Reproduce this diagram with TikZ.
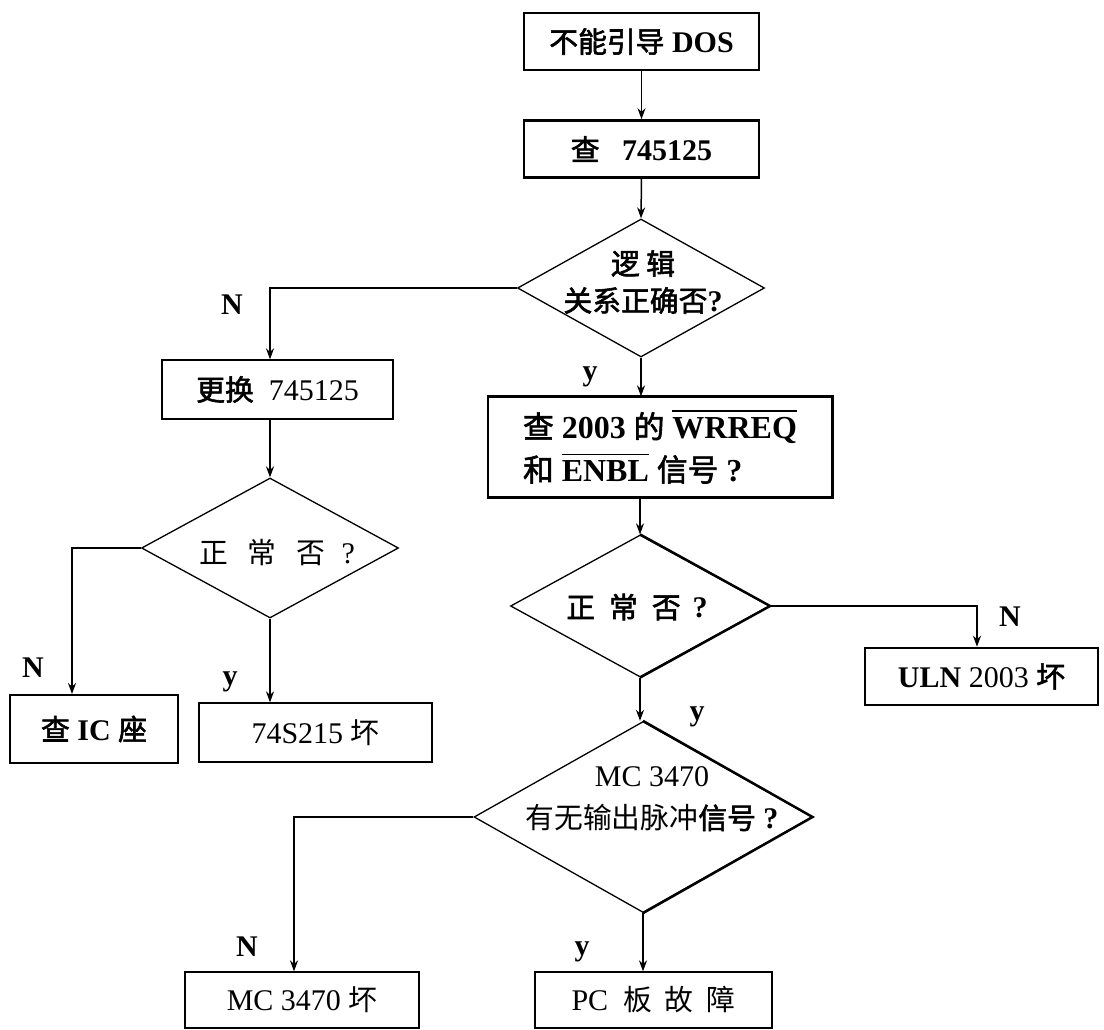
\documentclass[tikz,border=0pt]{standalone}
\usepackage{fontspec}
\setmainfont{Liberation Serif}
\newfontfamily\cjk{Noto Sans CJK SC}[Scale=0.96,AutoFakeBold=2]
\usetikzlibrary{shapes.geometric,arrows.meta}
\newcommand{\zh}[1]{{\cjk #1}}
\newcommand{\myovl}[1]{\setbox0\hbox{#1}\rlap{\raisebox{\dimexpr\ht0+5pt\relax}{\rule{\wd0}{1.6pt}}}\box0\relax}
\tikzset{
  box/.style={draw, rectangle, inner sep=0pt, line width=1.3pt, font=\fontsize{30}{40}\selectfont},
  heavy/.style={line width=2.6pt},
  dia/.style={draw, diamond, inner sep=0pt, line width=1.3pt},
  txt/.style={font=\fontsize{30}{37}\selectfont, align=center, inner sep=0pt},
  lbl/.style={font=\fontsize{30}{36}\selectfont\bfseries, inner sep=0pt},
  conn/.style={line width=1.5pt, -{Stealth[length=11pt,width=8pt]}},
}
\begin{document}
\begin{tikzpicture}[x=1pt,y=-1pt]
\fill[white] (0,0) rectangle (1104,1030);
\useasboundingbox (0,0) rectangle (1104,1030);

% main spine
\node[box, heavy, minimum width=235pt, minimum height=57pt] (b1) at (641.5,41.5)
  {\zh{\bfseries 不能引导} \textbf{DOS}\hspace{8pt}};
\node[box, heavy, minimum width=235pt, minimum height=57pt] (b2) at (641.5,149)
  {\zh{\bfseries 查}\ \ \ \textbf{745125}\hspace{36pt}};
\node[dia, minimum width=247pt, minimum height=138pt] (d1) at (641,288) {};
\node[txt] (t1) at (643,282) {\zh{\bfseries 逻\ 辑}\\\zh{\bfseries 关系正确否}\textbf{?}};
\node[box, minimum width=344pt, minimum height=100pt, align=left,
      font=\fontsize{32}{43}\selectfont] (b3) at (660,447)
  {\zh{\bfseries 查} \textbf{2003} \zh{\bfseries 的} \myovl{\textbf{WRREQ}}\\
   \zh{\bfseries 和} \myovl{\textbf{ENBL}} \zh{\bfseries 信号} \textbf{?}};
\draw[heavy] (b3.north west) -- (b3.north east) -- (b3.south east) -- (b3.south west);
\node[dia, minimum width=259pt, minimum height=142pt] (d2) at (640,606) {};
\draw[line width=2.4pt, line join=miter] (d2.north) -- (d2.east) -- (d2.south);
\node[txt] (t2) at (637,607) {\zh{\bfseries 正\hspace{14pt}常\hspace{14pt}否}\hspace{12pt}\textbf{?}};
\node[box, heavy, minimum width=233pt, minimum height=57pt] (uln) at (981.5,676.5)
  {\textbf{ULN} 2003 \zh{\bfseries 坏}};
\node[dia, minimum width=338pt, minimum height=191pt] (d3) at (643,817) {};
\draw[line width=2.4pt] (d3.north) -- (d3.east) -- (d3.south);
\node[txt, font=\fontsize{30}{42}\selectfont] (t3) at (652,799)
  {MC 3470\\\zh{有无输出脉冲}\zh{\bfseries 信号} \textbf{?}};
\node[box, minimum width=234pt, minimum height=56pt] (b7) at (302,1000)
  {MC 3470 \zh{坏}\hspace{20pt}};
\node[box, minimum width=237pt, minimum height=56pt] (b8) at (653.5,1000)
  {PC\ \ \zh{板\ \ 故\ \ 障}\hspace{12pt}};

% left branch
\node[box, minimum width=231pt, minimum height=59pt] (b4) at (277.5,389.5)
  {\zh{\bfseries 更换}\ \ 745125\hspace{34pt}};
\node[dia, minimum width=257pt, minimum height=140pt] (d4) at (270,548) {};
\node[txt] (t4) at (277,553) {\zh{正\hspace{20pt}常\hspace{20pt}否}\hspace{16pt}?};
\node[box, line width=2pt, minimum width=168pt, minimum height=68pt] (b5) at (94,729)
  {\zh{\bfseries 查}\ \textbf{IC}\ \zh{\bfseries 座}\hspace{40pt}};
\node[box, minimum width=233pt, minimum height=59pt] (b6) at (315.5,732.5)
  {74S215 \zh{坏}\hspace{40pt}};

% branch labels
\node[lbl] (n1) at (232,305) {N};
\node[lbl] (y1) at (590,377) {y};
\node[lbl] (n2) at (1010,617) {N};
\node[lbl] (y2) at (697,717) {y};
\node[lbl] (n3) at (33,668) {N};
\node[lbl] (y3) at (230,682) {y};
\node[lbl] (n4) at (247,947) {N};
\node[lbl] (y4) at (582,952) {y};

% connectors
\draw[conn] (b1.south) -- (b2.north);
\draw[conn] (b2.south) -- (d1.north);
\draw[conn] (d1.south) -- (d1.south |- b3.north);
\draw[conn] (d2.north |- b3.south) -- (d2.north);
\draw[conn, line width=2.6pt] (d2.east) -| ([xshift=-4.5pt]uln.north);
\draw[conn] (d2.south) -- (d2.south |- d3.north);
\draw[conn] (d3.west) -| ([xshift=-8pt]b7.north);
\draw[conn] (d3.south) -- (d3.south |- b8.north);
\draw[conn] (d1.west) -| (d4.north |- b4.north);
\draw[conn] (d4.north |- b4.south) -- (d4.north);
\draw[conn] (d4.west) -| ([xshift=-22pt]b5.north);
\draw[conn] (d4.south) -- (d4.south |- b6.north);
\end{tikzpicture}
\end{document}
